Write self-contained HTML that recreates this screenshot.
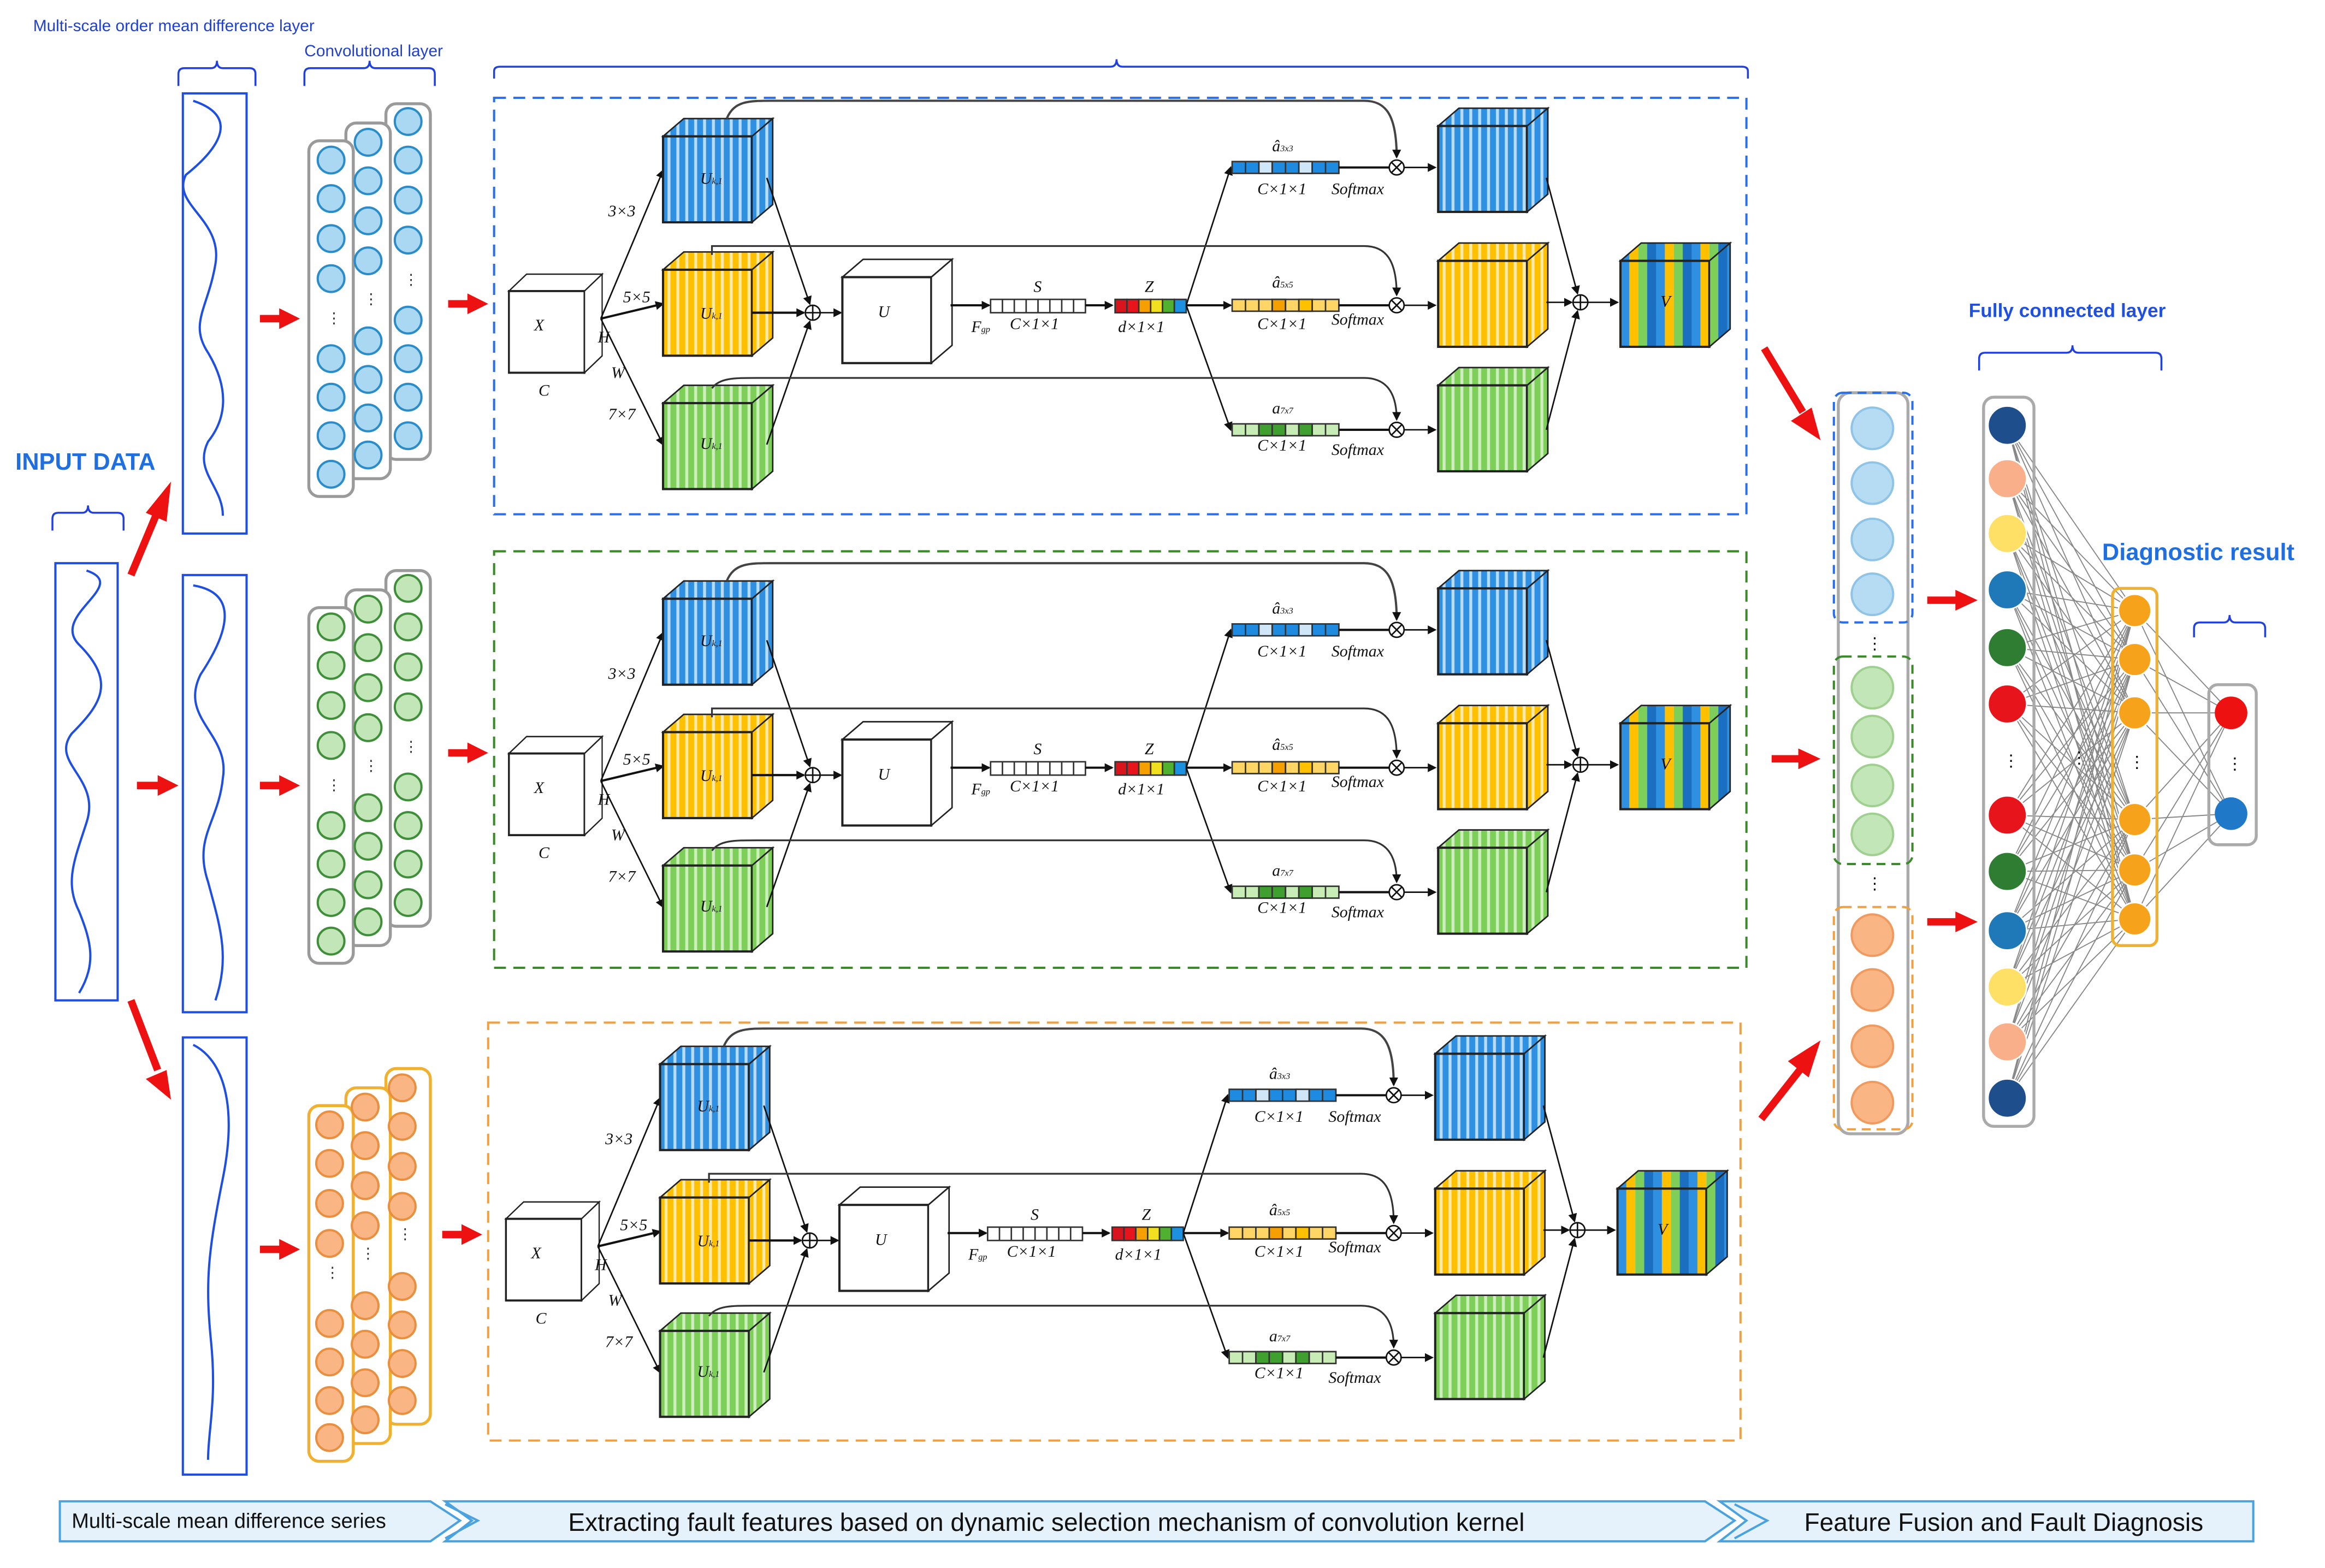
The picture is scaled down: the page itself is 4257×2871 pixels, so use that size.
<!DOCTYPE html>
<html><head><meta charset="utf-8"><style>
html,body{margin:0;padding:0;background:#fff;}
svg{display:block;}
text{font-family:"Liberation Serif",serif;}
.s{font-family:"Liberation Sans",sans-serif;}
.lb{font-size:11px;font-style:italic;fill:#111;}
.sm{font-size:10px;fill:#111;}
</style></head><body>
<svg width="4257" height="2871" viewBox="0 0 1568 1058" xmlns="http://www.w3.org/2000/svg">
<defs>
<pattern id="pB" width="6" height="10" patternUnits="userSpaceOnUse"><rect width="6" height="10" fill="#2f8fe0"/><rect x="3" width="2" height="10" fill="#b8dcf7"/></pattern>
<pattern id="pY" width="6" height="10" patternUnits="userSpaceOnUse"><rect width="6" height="10" fill="#ffc000"/><rect x="3" width="2" height="10" fill="#ffe9a8"/></pattern>
<pattern id="pG" width="6" height="10" patternUnits="userSpaceOnUse"><rect width="6" height="10" fill="#7dcf5a"/><rect x="3" width="2" height="10" fill="#cdeebd"/></pattern>
<pattern id="pV" width="24" height="10" patternUnits="userSpaceOnUse"><rect width="6" height="10" fill="#2f8fe0"/><rect x="6" width="6" height="10" fill="#ffc000"/><rect x="12" width="6" height="10" fill="#7dcf5a"/><rect x="18" width="6" height="10" fill="#1a6fc0"/></pattern>
<marker id="ah" markerUnits="userSpaceOnUse" markerWidth="6" markerHeight="6" refX="5" refY="3" orient="auto"><path d="M0,0 L6,3 L0,6z" fill="#111"/></marker>
<g id="cB"><polygon points="0,12 14,0 74,0 60,12" fill="url(#pB)" stroke="#222"/><rect x="0" y="12" width="60" height="58" fill="url(#pB)" stroke="#222" stroke-width="1.5"/><polygon points="60,12 74,0 74,58 60,70" fill="url(#pB)" stroke="#222"/></g>
<g id="cY"><polygon points="0,12 14,0 74,0 60,12" fill="url(#pY)" stroke="#222"/><rect x="0" y="12" width="60" height="58" fill="url(#pY)" stroke="#222" stroke-width="1.5"/><polygon points="60,12 74,0 74,58 60,70" fill="url(#pY)" stroke="#222"/></g>
<g id="cG"><polygon points="0,12 14,0 74,0 60,12" fill="url(#pG)" stroke="#222"/><rect x="0" y="12" width="60" height="58" fill="url(#pG)" stroke="#222" stroke-width="1.5"/><polygon points="60,12 74,0 74,58 60,70" fill="url(#pG)" stroke="#222"/></g>
<g id="cV"><polygon points="0,12 14,0 74,0 60,12" fill="url(#pV)" stroke="#222"/><rect x="0" y="12" width="60" height="58" fill="url(#pV)" stroke="#222" stroke-width="1.5"/><polygon points="60,12 74,0 74,58 60,70" fill="url(#pV)" stroke="#222"/></g>
<g id="cW"><polygon points="0,12 14,0 74,0 60,12" fill="#fff" stroke="#222"/><rect x="0" y="12" width="60" height="58" fill="#fff" stroke="#222" stroke-width="1.5"/><polygon points="60,12 74,0 74,58 60,70" fill="#fff" stroke="#222"/></g>
<g id="mod" fill="none" stroke="#111" stroke-width="1">
 <g transform="translate(343,185) scale(0.85,0.95)"><use href="#cW"/></g>
 <line x1="405" y1="215" x2="447" y2="115" marker-end="url(#ah)"/>
 <line x1="405" y1="215" x2="447" y2="205" marker-end="url(#ah)" stroke-width="1.5"/>
 <line x1="405" y1="215" x2="447" y2="300" marker-end="url(#ah)"/>
 <use href="#cB" x="447" y="80"/>
 <use href="#cY" x="447" y="170"/>
 <use href="#cG" x="447" y="260"/>
 <line x1="517" y1="120" x2="546" y2="205" marker-end="url(#ah)"/>
 <line x1="507" y1="211" x2="542" y2="211" marker-end="url(#ah)" stroke-width="1.5"/>
 <line x1="517" y1="300" x2="546" y2="217" marker-end="url(#ah)"/>
 <circle cx="548" cy="211" r="5" fill="#fff"/><line x1="543" y1="211" x2="553" y2="211"/><line x1="548" y1="206" x2="548" y2="216"/>
 <line x1="553" y1="211" x2="567" y2="211" marker-end="url(#ah)"/>
 <use href="#cW" x="568" y="175"/>
 <line x1="641" y1="206" x2="667" y2="206" marker-end="url(#ah)" stroke-width="1.5"/>
 <g stroke="#333"><rect x="668" y="202" width="64" height="9" fill="#fff"/>
 <path d="M676,202v9M684,202v9M692,202v9M700,202v9M708,202v9M716,202v9M724,202v9"/></g>
 <line x1="732" y1="206" x2="750" y2="206" marker-end="url(#ah)" stroke-width="1.5"/>
 <g stroke="#333"><rect x="752" y="202" width="8" height="9" fill="#d8141c"/><rect x="760" y="202" width="8" height="9" fill="#e8141c"/><rect x="768" y="202" width="8" height="9" fill="#f5a000"/><rect x="776" y="202" width="8" height="9" fill="#f0e020"/><rect x="784" y="202" width="8" height="9" fill="#50b030"/><rect x="792" y="202" width="8" height="9" fill="#1e90e0"/></g>
 <line x1="800" y1="206" x2="830" y2="113" marker-end="url(#ah)"/>
 <line x1="800" y1="206" x2="830" y2="206" marker-end="url(#ah)" stroke-width="1.5"/>
 <line x1="800" y1="206" x2="830" y2="290" marker-end="url(#ah)"/>
 <g stroke="#333">
 <rect x="831" y="109" width="72" height="8" fill="#1e8be0"/><rect x="849" y="109" width="9" height="8" fill="#cfe6f8"/><rect x="876" y="109" width="9" height="8" fill="#cfe6f8"/><path d="M840,109v8M849,109v8M858,109v8M867,109v8M876,109v8M885,109v8M894,109v8"/>
 <rect x="831" y="202" width="72" height="8" fill="#ffd666"/><rect x="858" y="202" width="9" height="8" fill="#f5a000"/><rect x="876" y="202" width="9" height="8" fill="#ffc000"/><path d="M840,202v8M849,202v8M858,202v8M867,202v8M876,202v8M885,202v8M894,202v8"/>
 <rect x="831" y="286" width="72" height="8" fill="#c8ecb5"/><rect x="849" y="286" width="18" height="8" fill="#3fa030"/><rect x="876" y="286" width="9" height="8" fill="#3fa030"/><path d="M840,286v8M849,286v8M858,286v8M867,286v8M876,286v8M885,286v8M894,286v8"/>
 </g>
 <line x1="903" y1="113" x2="937" y2="113" stroke-width="1.5"/>
 <line x1="903" y1="206" x2="937" y2="206" stroke-width="1.5"/>
 <line x1="903" y1="290" x2="937" y2="290" stroke-width="1.5"/>
 <path d="M490,80 C495,68 505,68 520,68 L920,68 C935,68 942,78 942,106" marker-end="url(#ah)" stroke="#444" stroke-width="1.5"/>
 <path d="M480,172 L480,166 L920,166 C935,166 942,176 942,199" marker-end="url(#ah)" stroke="#333" stroke-width="1.2"/>
 <path d="M480,262 C485,255 495,255 510,255 L920,255 C935,255 942,265 942,283" marker-end="url(#ah)" stroke="#333" stroke-width="1.2"/>
 <g fill="#fff"><circle cx="942" cy="113" r="5"/><circle cx="942" cy="206" r="5"/><circle cx="942" cy="290" r="5"/></g>
 <path d="M938.5,109.5l7,7M945.5,109.5l-7,7M938.5,202.5l7,7M945.5,202.5l-7,7M938.5,286.5l7,7M945.5,286.5l-7,7"/>
 <line x1="947" y1="113" x2="968" y2="113" marker-end="url(#ah)"/>
 <line x1="947" y1="206" x2="968" y2="206" marker-end="url(#ah)"/>
 <line x1="947" y1="290" x2="968" y2="290" marker-end="url(#ah)"/>
 <use href="#cB" x="970" y="73"/>
 <use href="#cY" x="970" y="164"/>
 <use href="#cG" x="970" y="248"/>
 <line x1="1043" y1="120" x2="1064" y2="198" marker-end="url(#ah)"/>
 <line x1="1043" y1="204" x2="1060" y2="204" marker-end="url(#ah)"/>
 <line x1="1043" y1="290" x2="1064" y2="210" marker-end="url(#ah)"/>
 <circle cx="1066" cy="204" r="5" fill="#fff"/><line x1="1061" y1="204" x2="1071" y2="204"/><line x1="1066" y1="199" x2="1066" y2="209"/>
 <line x1="1071" y1="204" x2="1091" y2="204" marker-end="url(#ah)"/>
 <use href="#cV" x="1093" y="164"/>
</g>
</defs>

<text x="10" y="317" class="s" font-size="16" font-weight="bold" fill="#1f6fe0">INPUT DATA</text>
<text x="22" y="21" class="s" font-size="11" fill="#2040d0">Multi-scale order mean difference layer</text>
<text x="205" y="38" class="s" font-size="11" fill="#2040d0">Convolutional layer</text>
<text x="1328" y="214" class="s" font-size="13" font-weight="bold" fill="#2050e0">Fully connected layer</text>
<text x="1418" y="378" class="s" font-size="16" font-weight="bold" fill="#1f6fe0">Diagnostic result</text>
<g fill="none" stroke="#2040e0" stroke-width="1.3">
<path d="M35,358 v-8 q0,-4 4,-4 h16 q4,0 4,-5 q0,5 4,5 h16 q4,0 4,4 v8"/>
<path d="M120,58 v-8 q0,-4 4,-4 h18 q4,0 4,-5 q0,5 4,5 h18 q4,0 4,4 v8"/>
<path d="M205,58 v-8 q0,-4 4,-4 h36 q4,0 4,-5 q0,5 4,5 h36 q4,0 4,4 v8"/>
<path d="M333,53 v-5 q0,-3 4,-3 h412 q4,0 4,-5 q0,5 4,5 h418 q4,0 4,3 v5"/>
<path d="M1335,250 v-8 q0,-4 4,-4 h55 q4,0 4,-5 q0,5 4,5 h52 q4,0 4,4 v8"/>
<path d="M1480,430 v-6 q0,-4 4,-4 h16 q4,0 4,-5 q0,5 4,5 h16 q4,0 4,4 v6"/>
</g>
<g fill="none" stroke="#1f4fe0" stroke-width="1.5">
<rect x="37" y="380" width="42" height="295"/>
<path d="M58,385 c30,10 -25,30 -5,50 c25,25 15,40 -5,60 c-15,20 20,30 10,60 c-8,25 -15,40 -5,60 c8,20 12,35 0,55"/>
<rect x="123" y="63" width="43" height="297"/>
<path d="M130,68 c30,10 20,30 -5,50 c-10,20 25,30 20,60 c-5,30 -18,40 -5,60 c15,25 12,45 0,60 c-10,20 10,30 10,50"/>
<rect x="123" y="388" width="43" height="295"/>
<path d="M130,395 c30,5 25,30 5,60 c-15,30 20,40 15,70 c-3,30 -20,40 -10,70 c8,30 15,50 5,80"/>
<rect x="123" y="700" width="43" height="295"/>
<path d="M130,705 c20,10 30,40 20,90 c-10,50 -12,70 -8,110 c4,40 -2,60 -2,80"/>
</g>
<g stroke="#ee1111" stroke-width="5" fill="#ee1111">
<line x1="88" y1="388" x2="106" y2="345"/><polygon points="115,325 112,352 98,346" stroke="none"/>
<line x1="92" y1="530" x2="108" y2="530"/><polygon points="120,530 106,523 106,537" stroke="none"/>
<line x1="88" y1="675" x2="106" y2="722"/><polygon points="115,742 98,728 112,722" stroke="none"/>
<line x1="175" y1="215" x2="190" y2="215"/><polygon points="202,215 188,208 188,222" stroke="none"/>
<line x1="175" y1="530" x2="190" y2="530"/><polygon points="202,530 188,523 188,537" stroke="none"/>
<line x1="175" y1="843" x2="190" y2="843"/><polygon points="202,843 188,836 188,850" stroke="none"/>
<line x1="302" y1="205" x2="316" y2="205"/><polygon points="329,205 315,198 315,212" stroke="none"/>
<line x1="302" y1="508" x2="316" y2="508"/><polygon points="329,508 315,501 315,515" stroke="none"/>
<line x1="298" y1="833" x2="312" y2="833"/><polygon points="325,833 311,826 311,840" stroke="none"/>
<line x1="1190" y1="235" x2="1216" y2="278"/><polygon points="1228,297 1208,284 1222,275" stroke="none"/>
<line x1="1195" y1="512" x2="1214" y2="512"/><polygon points="1228,512 1213,505 1213,519" stroke="none"/>
<line x1="1188" y1="755" x2="1214" y2="722"/><polygon points="1228,702 1206,716 1220,727" stroke="none"/>
<line x1="1300" y1="405" x2="1320" y2="405"/><polygon points="1334,405 1319,398 1319,412" stroke="none"/>
<line x1="1300" y1="622" x2="1320" y2="622"/><polygon points="1334,622 1319,615 1319,629" stroke="none"/>
</g>

<g>
 <rect x="260" y="70" width="30" height="240" rx="7" fill="#fff" stroke="#9a9a9a" stroke-width="2"/>
 <rect x="233" y="83" width="30" height="240" rx="7" fill="#fff" stroke="#9a9a9a" stroke-width="2"/>
 <rect x="208" y="95" width="30" height="240" rx="7" fill="#fff" stroke="#9a9a9a" stroke-width="2"/>
 <g fill="#aad8f2" stroke="#2a8cc8" stroke-width="1.5">
 <circle cx="275" cy="82" r="9"/><circle cx="275" cy="108" r="9"/><circle cx="275" cy="135" r="9"/><circle cx="275" cy="162" r="9"/><circle cx="275" cy="216" r="9"/><circle cx="275" cy="242" r="9"/><circle cx="275" cy="268" r="9"/><circle cx="275" cy="294" r="9"/>
 <circle cx="248" cy="96" r="9"/><circle cx="248" cy="122" r="9"/><circle cx="248" cy="149" r="9"/><circle cx="248" cy="176" r="9"/><circle cx="248" cy="230" r="9"/><circle cx="248" cy="256" r="9"/><circle cx="248" cy="282" r="9"/><circle cx="248" cy="307" r="9"/>
 <circle cx="223" cy="108" r="9"/><circle cx="223" cy="134" r="9"/><circle cx="223" cy="161" r="9"/><circle cx="223" cy="188" r="9"/><circle cx="223" cy="242" r="9"/><circle cx="223" cy="268" r="9"/><circle cx="223" cy="294" r="9"/><circle cx="223" cy="320" r="9"/>
 </g>
</g>
<g transform="translate(0,315)">
 <rect x="260" y="70" width="30" height="240" rx="7" fill="#fff" stroke="#9a9a9a" stroke-width="2"/>
 <rect x="233" y="83" width="30" height="240" rx="7" fill="#fff" stroke="#9a9a9a" stroke-width="2"/>
 <rect x="208" y="95" width="30" height="240" rx="7" fill="#fff" stroke="#9a9a9a" stroke-width="2"/>
 <g fill="#c3e6b8" stroke="#3f8f3a" stroke-width="1.5">
 <circle cx="275" cy="82" r="9"/><circle cx="275" cy="108" r="9"/><circle cx="275" cy="135" r="9"/><circle cx="275" cy="162" r="9"/><circle cx="275" cy="216" r="9"/><circle cx="275" cy="242" r="9"/><circle cx="275" cy="268" r="9"/><circle cx="275" cy="294" r="9"/>
 <circle cx="248" cy="96" r="9"/><circle cx="248" cy="122" r="9"/><circle cx="248" cy="149" r="9"/><circle cx="248" cy="176" r="9"/><circle cx="248" cy="230" r="9"/><circle cx="248" cy="256" r="9"/><circle cx="248" cy="282" r="9"/><circle cx="248" cy="307" r="9"/>
 <circle cx="223" cy="108" r="9"/><circle cx="223" cy="134" r="9"/><circle cx="223" cy="161" r="9"/><circle cx="223" cy="188" r="9"/><circle cx="223" cy="242" r="9"/><circle cx="223" cy="268" r="9"/><circle cx="223" cy="294" r="9"/><circle cx="223" cy="320" r="9"/>
 </g>
</g>
<g transform="translate(0,648)">
 <rect x="260" y="73" width="30" height="240" rx="7" fill="#fff" stroke="#f0b030" stroke-width="2"/>
 <rect x="233" y="86" width="30" height="240" rx="7" fill="#fff" stroke="#f0b030" stroke-width="2"/>
 <rect x="208" y="98" width="30" height="240" rx="7" fill="#fff" stroke="#f0b030" stroke-width="2"/>
 <g fill="#f9b584" stroke="#e89040" stroke-width="1.5">
 <circle cx="271" cy="86" r="9"/><circle cx="271" cy="112" r="9"/><circle cx="271" cy="139" r="9"/><circle cx="271" cy="166" r="9"/><circle cx="271" cy="220" r="9"/><circle cx="271" cy="246" r="9"/><circle cx="271" cy="272" r="9"/><circle cx="271" cy="297" r="9"/>
 <circle cx="246" cy="99" r="9"/><circle cx="246" cy="125" r="9"/><circle cx="246" cy="152" r="9"/><circle cx="246" cy="179" r="9"/><circle cx="246" cy="233" r="9"/><circle cx="246" cy="259" r="9"/><circle cx="246" cy="285" r="9"/><circle cx="246" cy="310" r="9"/>
 <circle cx="222" cy="111" r="9"/><circle cx="222" cy="137" r="9"/><circle cx="222" cy="164" r="9"/><circle cx="222" cy="191" r="9"/><circle cx="222" cy="245" r="9"/><circle cx="222" cy="271" r="9"/><circle cx="222" cy="297" r="9"/><circle cx="222" cy="322" r="9"/>
 </g>
</g>
<g font-size="10" fill="#333" font-family="Liberation Sans">
<text x="220" y="218">⋮</text><text x="245" y="205">⋮</text><text x="272" y="192">⋮</text>
<text x="220" y="533">⋮</text><text x="245" y="520">⋮</text><text x="272" y="507">⋮</text>
<text x="219" y="862">⋮</text><text x="243" y="849">⋮</text><text x="268" y="836">⋮</text>
</g>

<g fill="none" stroke-width="1.5" stroke-dasharray="8,5">
<rect x="333" y="66" width="845" height="281" stroke="#2a6fe8"/>
<rect x="333" y="372" width="845" height="281" stroke="#3a8a2a"/>
<rect x="329" y="690" width="845" height="282" stroke="#f0a040"/>
</g>
<use href="#mod"/>
<use href="#mod" transform="translate(0,312)"/>
<use href="#mod" transform="translate(-2,626)"/>

<g class="lb">
<text x="410" y="146">3×3</text><text x="420" y="204">5×5</text><text x="410" y="283">7×7</text>
<text x="360" y="223">X</text><text x="403" y="231">H</text><text x="412" y="255">W</text><text x="363" y="267">C</text>
<text x="472" y="124">U<tspan font-size="6">k,1</tspan></text><text x="472" y="215">U<tspan font-size="6">k,1</tspan></text><text x="472" y="303">U<tspan font-size="6">k,1</tspan></text>
<text x="592" y="214">U</text><text x="655" y="224">F<tspan font-size="6">gp</tspan></text><text x="697" y="197">S</text><text x="681" y="222">C×1×1</text>
<text x="772" y="197">Z</text><text x="754" y="224">d×1×1</text>
<text x="858" y="102">â<tspan font-size="6">3x3</tspan></text><text x="848" y="131">C×1×1</text><text x="898" y="131">Softmax</text>
<text x="858" y="194">â<tspan font-size="6">5x5</tspan></text><text x="848" y="222">C×1×1</text><text x="898" y="219">Softmax</text>
<text x="858" y="279">a<tspan font-size="6">7x7</tspan></text><text x="848" y="304">C×1×1</text><text x="898" y="307">Softmax</text>
<text x="1120" y="207">V</text>
</g>
<g class="lb" transform="translate(0,312)">
<text x="410" y="146">3×3</text><text x="420" y="204">5×5</text><text x="410" y="283">7×7</text>
<text x="360" y="223">X</text><text x="403" y="231">H</text><text x="412" y="255">W</text><text x="363" y="267">C</text>
<text x="472" y="124">U<tspan font-size="6">k,1</tspan></text><text x="472" y="215">U<tspan font-size="6">k,1</tspan></text><text x="472" y="303">U<tspan font-size="6">k,1</tspan></text>
<text x="592" y="214">U</text><text x="655" y="224">F<tspan font-size="6">gp</tspan></text><text x="697" y="197">S</text><text x="681" y="222">C×1×1</text>
<text x="772" y="197">Z</text><text x="754" y="224">d×1×1</text>
<text x="858" y="102">â<tspan font-size="6">3x3</tspan></text><text x="848" y="131">C×1×1</text><text x="898" y="131">Softmax</text>
<text x="858" y="194">â<tspan font-size="6">5x5</tspan></text><text x="848" y="222">C×1×1</text><text x="898" y="219">Softmax</text>
<text x="858" y="279">a<tspan font-size="6">7x7</tspan></text><text x="848" y="304">C×1×1</text><text x="898" y="307">Softmax</text>
<text x="1120" y="207">V</text>
</g>
<g class="lb" transform="translate(-2,626)">
<text x="410" y="146">3×3</text><text x="420" y="204">5×5</text><text x="410" y="283">7×7</text>
<text x="360" y="223">X</text><text x="403" y="231">H</text><text x="412" y="255">W</text><text x="363" y="267">C</text>
<text x="472" y="124">U<tspan font-size="6">k,1</tspan></text><text x="472" y="215">U<tspan font-size="6">k,1</tspan></text><text x="472" y="303">U<tspan font-size="6">k,1</tspan></text>
<text x="592" y="214">U</text><text x="655" y="224">F<tspan font-size="6">gp</tspan></text><text x="697" y="197">S</text><text x="681" y="222">C×1×1</text>
<text x="772" y="197">Z</text><text x="754" y="224">d×1×1</text>
<text x="858" y="102">â<tspan font-size="6">3x3</tspan></text><text x="848" y="131">C×1×1</text><text x="898" y="131">Softmax</text>
<text x="858" y="194">â<tspan font-size="6">5x5</tspan></text><text x="848" y="222">C×1×1</text><text x="898" y="219">Softmax</text>
<text x="858" y="279">a<tspan font-size="6">7x7</tspan></text><text x="848" y="304">C×1×1</text><text x="898" y="307">Softmax</text>
<text x="1120" y="207">V</text>
</g>

<rect x="1240" y="265" width="47" height="500" rx="8" fill="#fff" stroke="#aaa" stroke-width="2"/>
<g fill="none" stroke-width="1.5" stroke-dasharray="6,4">
<rect x="1237" y="265" width="53" height="155" rx="6" stroke="#2a6fe8"/>
<rect x="1237" y="443" width="53" height="140" rx="6" stroke="#3a8a2a"/>
<rect x="1237" y="612" width="53" height="150" rx="6" stroke="#f0a040"/>
</g>
<g stroke-width="1.5">
<g fill="#b5dcf2" stroke="#8fc4e6"><circle cx="1263" cy="289" r="14"/><circle cx="1263" cy="326" r="14"/><circle cx="1263" cy="364" r="14"/><circle cx="1263" cy="401" r="14"/></g>
<g fill="#c3e6b8" stroke="#9fd090"><circle cx="1263" cy="464" r="14"/><circle cx="1263" cy="497" r="14"/><circle cx="1263" cy="530" r="14"/><circle cx="1263" cy="563" r="14"/></g>
<g fill="#f9b584" stroke="#f09a60"><circle cx="1263" cy="631" r="14"/><circle cx="1263" cy="668" r="14"/><circle cx="1263" cy="706" r="14"/><circle cx="1263" cy="744" r="14"/></g>
</g>
<text x="1259" y="438" font-size="11" class="s">⋮</text><text x="1259" y="600" font-size="11" class="s">⋮</text>

<g stroke="#888" stroke-width="0.7">
<path d="M1354,287L1440,412M1354,287L1440,445M1354,287L1440,481M1354,287L1440,553M1354,287L1440,587M1354,287L1440,620
M1354,323L1440,412M1354,323L1440,445M1354,323L1440,481M1354,323L1440,553M1354,323L1440,587M1354,323L1440,620
M1354,360L1440,412M1354,360L1440,445M1354,360L1440,481M1354,360L1440,553M1354,360L1440,587M1354,360L1440,620
M1354,398L1440,412M1354,398L1440,445M1354,398L1440,481M1354,398L1440,553M1354,398L1440,587M1354,398L1440,620
M1354,437L1440,412M1354,437L1440,445M1354,437L1440,481M1354,437L1440,553M1354,437L1440,587M1354,437L1440,620
M1354,475L1440,412M1354,475L1440,445M1354,475L1440,481M1354,475L1440,553M1354,475L1440,587M1354,475L1440,620
M1354,550L1440,412M1354,550L1440,445M1354,550L1440,481M1354,550L1440,553M1354,550L1440,587M1354,550L1440,620
M1354,588L1440,412M1354,588L1440,445M1354,588L1440,481M1354,588L1440,553M1354,588L1440,587M1354,588L1440,620
M1354,628L1440,412M1354,628L1440,445M1354,628L1440,481M1354,628L1440,553M1354,628L1440,587M1354,628L1440,620
M1354,666L1440,412M1354,666L1440,445M1354,666L1440,481M1354,666L1440,553M1354,666L1440,587M1354,666L1440,620
M1354,703L1440,412M1354,703L1440,445M1354,703L1440,481M1354,703L1440,553M1354,703L1440,587M1354,703L1440,620
M1354,741L1440,412M1354,741L1440,445M1354,741L1440,481M1354,741L1440,553M1354,741L1440,587M1354,741L1440,620
M1440,412L1505,481M1440,445L1505,481M1440,481L1505,481M1440,553L1505,481M1440,587L1505,481M1440,620L1505,481
M1440,412L1505,549M1440,445L1505,549M1440,481L1505,549M1440,553L1505,549M1440,587L1505,549M1440,620L1505,549"/>
</g>
<rect x="1338" y="268" width="34" height="492" rx="7" fill="none" stroke="#aaa" stroke-width="2"/>
<g stroke="#fff" stroke-width="1">
<circle cx="1354" cy="287" r="13" fill="#1f4e8c"/><circle cx="1354" cy="323" r="13" fill="#f9b08a"/><circle cx="1354" cy="360" r="13" fill="#ffe066"/><circle cx="1354" cy="398" r="13" fill="#1f78b8"/><circle cx="1354" cy="437" r="13" fill="#2e7d32"/><circle cx="1354" cy="475" r="13" fill="#e8141c"/>
<circle cx="1354" cy="550" r="13" fill="#e8141c"/><circle cx="1354" cy="588" r="13" fill="#2e7d32"/><circle cx="1354" cy="628" r="13" fill="#1f78b8"/><circle cx="1354" cy="666" r="13" fill="#ffe066"/><circle cx="1354" cy="703" r="13" fill="#f9b08a"/><circle cx="1354" cy="741" r="13" fill="#1f4e8c"/>
</g>
<text x="1351" y="517" font-size="11" class="s">⋮</text><text x="1397" y="515" font-size="11" class="s">⋮</text><text x="1436" y="518" font-size="11" class="s">⋮</text><text x="1502" y="519" font-size="11" class="s">⋮</text>
<rect x="1425" y="397" width="30" height="241" rx="5" fill="none" stroke="#f0b030" stroke-width="2"/>
<g fill="#f7a21b" stroke="#fff"><circle cx="1440" cy="412" r="11"/><circle cx="1440" cy="445" r="11"/><circle cx="1440" cy="481" r="11"/><circle cx="1440" cy="553" r="11"/><circle cx="1440" cy="587" r="11"/><circle cx="1440" cy="620" r="11"/></g>
<rect x="1490" y="462" width="32" height="108" rx="6" fill="none" stroke="#aaa" stroke-width="2"/>
<circle cx="1505" cy="481" r="11" fill="#ee1111"/><circle cx="1505" cy="549" r="11" fill="#1f78c8"/>

<g stroke="#4aa3df" stroke-width="1.5" fill="#e6f2fb">
<polygon points="1160,1013 1520,1013 1520,1040 1160,1040 1178,1026"/>
<polygon points="300,1013 1150,1013 1170,1026 1150,1040 300,1040 318,1026"/>
<polygon points="40,1013 290,1013 310,1026 290,1040 40,1040"/>
</g>
<g stroke="#4aa3df" stroke-width="1.5" fill="none"><path d="M300,1015 L322,1026 L300,1038"/><path d="M1170,1015 L1192,1026 L1170,1038"/></g>
<text x="48" y="1031" class="s" font-size="14" fill="#111">Multi-scale mean difference series</text>
<text x="383" y="1033" class="s" font-size="17" fill="#111">Extracting fault features based on dynamic selection mechanism of convolution kernel</text>
<text x="1217" y="1033" class="s" font-size="17" fill="#111">Feature Fusion and Fault Diagnosis</text>
</svg>
</body></html>
